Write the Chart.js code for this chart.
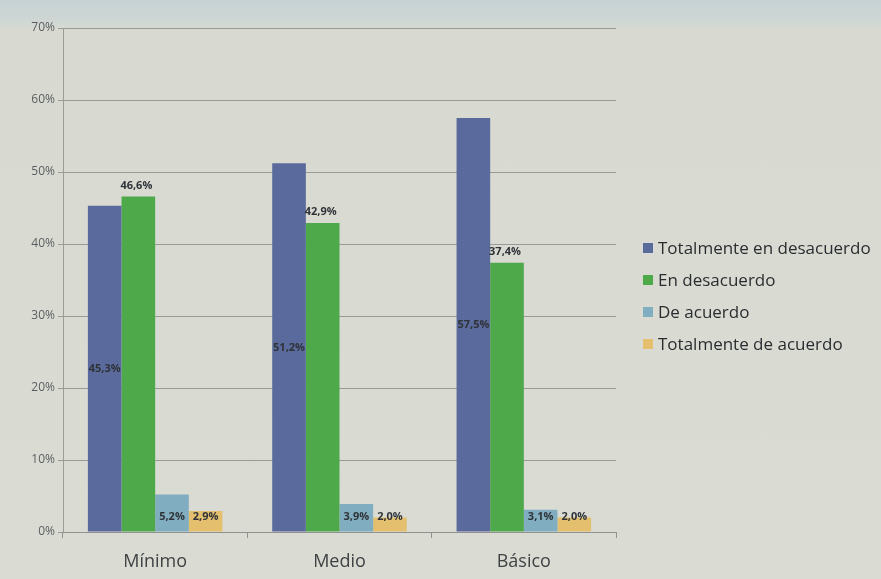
<!DOCTYPE html>
<html>
<head>
<meta charset="utf-8">
<script src="https://cdn.jsdelivr.net/npm/chart.js@4.4.1/dist/chart.umd.min.js"></script>
<style>
  html, body { margin: 0; padding: 0; }
  body {
    width: 881px; height: 579px; overflow: hidden;
    background: linear-gradient(to bottom, #c6d3d6 0px, #cdd6d3 18px, #d8dad2 30px, #dadcd4 100%);
  }
  #wrap { position: relative; width: 881px; height: 579px; }
</style>
</head>
<body>
<div id="wrap"><canvas id="grafico" width="881" height="579"></canvas></div>
<script>
const niveles = ['Mínimo', 'Medio', 'Básico'];
const series = ['Totalmente en desacuerdo', 'En desacuerdo', 'De acuerdo', 'Totalmente de acuerdo'];
const totalDesacuerdo = [45.3, 51.2, 57.5];
const enDesacuerdo = [46.6, 42.9, 37.4];
const deAcuerdo = [5.2, 3.9, 3.1];
const totalAcuerdo = [2.9, 2.0, 2.0];
const ticksY = [0, 10, 20, 30, 40, 50, 60, 70];
const colores = ['#5a6a9c', '#4ea94b', '#80adbf', '#e4bf6e'];

const fuente = '"Open Sans", "Liberation Sans", sans-serif';

// etiquetas de valor: azul al centro, verde encima, las pequeñas junto a la base
const etiquetas = {
  id: 'etiquetas',
  afterDatasetsDraw(chart) {
    const ctx = chart.ctx;
    ctx.save();
    ctx.font = 'bold 11px ' + fuente;
    ctx.fillStyle = '#2f3338';
    ctx.textAlign = 'center';
    ctx.textBaseline = 'middle';
    chart.data.datasets.forEach((ds, i) => {
      chart.getDatasetMeta(i).data.forEach((bar, j) => {
        const txt = ds.data[j].toFixed(1).replace('.', ',') + '%';
        let y;
        if (i === 0) y = (bar.y + bar.base) / 2;
        else if (i === 1) y = bar.y - 11;
        else y = bar.base - 15;
        ctx.fillText(txt, bar.x - (i === 1 ? 2 : 0), y);
      });
    });
    ctx.restore();
  }
};

// leyenda a la derecha
const leyenda = {
  id: 'leyenda',
  afterDraw(chart) {
    const ctx = chart.ctx;
    ctx.save();
    ctx.font = '17px ' + fuente;
    ctx.textBaseline = 'middle';
    chart.data.datasets.forEach((ds, i) => {
      const y = 248 + i * 32;
      ctx.fillStyle = ds.backgroundColor;
      ctx.fillRect(643, y - 5, 10, 10);
      ctx.fillStyle = '#2a2d30';
      ctx.fillText(ds.label, 658, y + 1);
    });
    ctx.restore();
  }
};

new Chart(document.getElementById('grafico'), {
  type: 'bar',
  data: {
    labels: niveles,
    datasets: [totalDesacuerdo, enDesacuerdo, deAcuerdo, totalAcuerdo].map((d, i) => ({
      label: series[i],
      data: d,
      backgroundColor: colores[i],
      categoryPercentage: 0.73,
      barPercentage: 1.0
    }))
  },
  options: {
    responsive: false,
    animation: false,
    layout: { padding: { top: 28, right: 265, left: 0, bottom: 0 } },
    plugins: { legend: { display: false }, tooltip: { enabled: false } },
    scales: {
      y: {
        min: 0, max: 70,
        afterFit: s => { s.width = 63; },
        afterBuildTicks: s => { s.ticks = ticksY.map(v => ({ value: v })); },
        ticks: {
          callback: v => v + '%',
          color: '#5a5e60',
          font: { family: fuente, size: 12 },
          padding: 3
        },
        grid: { color: '#979a97', lineWidth: 1, tickLength: 5 },
        border: { color: '#9a9c98' }
      },
      x: {
        afterFit: s => { s.height = 47; },
        ticks: {
          color: '#3f4244',
          font: { family: fuente, size: 18 },
          padding: 13
        },
        grid: { drawOnChartArea: false, color: '#8f9290', tickLength: 6, offset: true },
        border: { color: '#8f9290' }
      }
    }
  },
  plugins: [etiquetas, leyenda]
});
</script>
</body>
</html>
